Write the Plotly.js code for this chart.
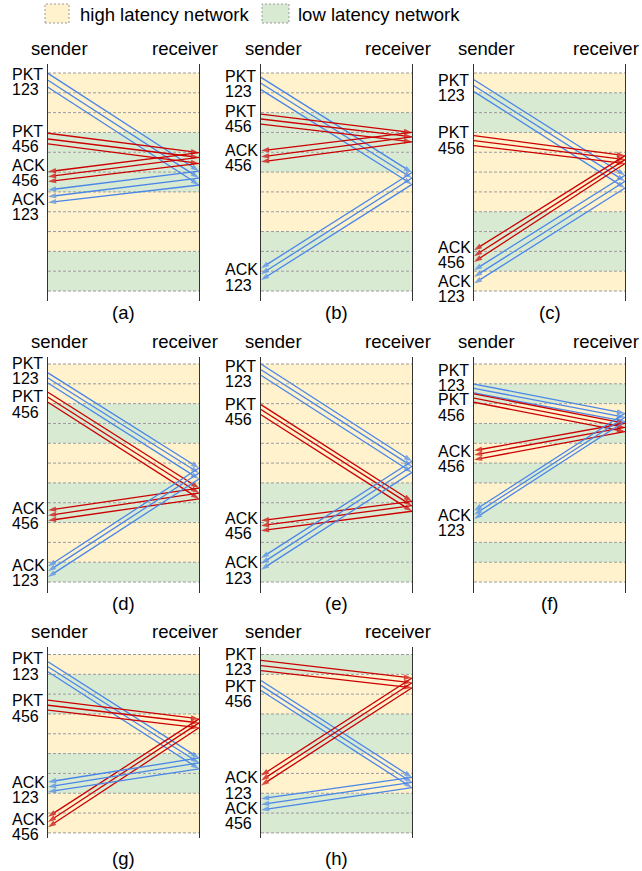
<!DOCTYPE html>
<html><head><meta charset="utf-8">
<script src="https://cdn.plot.ly/plotly-3.0.1.min.js"></script>
<style>html,body{margin:0;padding:0;background:#fff}#chart{width:642px;height:871px}</style>
</head><body><div id="chart"></div>
<script>
// ---------- DATA (time in band units, 0 = top of the band area) ----------
// H = high latency network band, L = low latency network band
const a_bands = 'HHHLLLHHHLL';
const a_pkt123_sent = [0.02, 0.37, 0.72], a_pkt123_recv = [4.95, 5.30, 5.65];
const a_pkt456_sent = [3.04, 3.33, 3.58], a_pkt456_recv = [4.02, 4.26, 4.56];
const a_ack123_back = [5.90, 6.24, 6.53], a_ack456_back = [4.98, 5.23, 5.48];
const a_labels = [['PKT','123',0.46],['PKT','456',3.34],['ACK','456',5.06],['ACK','123',6.75]];

const b_bands = 'HHLLLHHHLLL';
const b_pkt123_sent = [0.22, 0.52, 0.84], b_pkt123_recv = [5.02, 5.30, 5.62];
const b_pkt456_sent = [2.07, 2.32, 2.58], b_pkt456_recv = [3.00, 3.22, 3.47];
const b_ack123_back = [9.85, 10.15, 10.45], b_ack456_back = [3.92, 4.23, 4.48];
const b_labels = [['PKT','123',0.56],['PKT','456',2.32],['ACK','456',4.29],['ACK','123',10.32]];

const c_bands = 'HLLHHHHLLLH';
const c_pkt123_sent = [0.34, 0.64, 0.94], c_pkt123_recv = [5.16, 5.46, 5.80];
const c_pkt456_sent = [3.16, 3.41, 3.66], c_pkt456_recv = [4.17, 4.37, 4.57];
const c_ack123_back = [9.95, 10.29, 10.62], c_ack456_back = [8.94, 9.24, 9.53];
const c_labels = [['PKT','123',0.74],['PKT','456',3.41],['ACK','456',9.20],['ACK','123',10.88]];

const d_bands = 'HHLLHHLLHHL';
const d_pkt123_sent = [0.45, 0.71, 0.96], d_pkt123_recv = [5.25, 5.50, 5.80];
const d_pkt456_sent = [1.43, 1.68, 1.93], d_pkt456_recv = [6.26, 6.51, 6.80];
const d_ack123_back = [10.21, 10.46, 10.75], d_ack456_back = [7.38, 7.64, 7.90];
const d_labels = [['PKT','123',0.37],['PKT','456',2.04],['ACK','456',7.66],['ACK','123',10.55]];

const e_bands = 'HHHHHHLLLLL';
const e_pkt123_sent = [0.00, 0.29, 0.57], e_pkt123_recv = [4.91, 5.16, 5.47];
const e_pkt456_sent = [2.05, 2.30, 2.56], e_pkt456_recv = [6.93, 7.15, 7.43];
const e_ack123_back = [9.79, 10.08, 10.38], e_ack456_back = [7.90, 8.16, 8.41];
const e_labels = [['PKT','123',0.49],['PKT','456',2.41],['ACK','456',8.19],['ACK','123',10.42]];

const f_bands = 'HLHLHLHLHLH';
const f_pkt123_sent = [1.01, 1.23, 1.46], f_pkt123_recv = [2.49, 2.69, 2.89];
const f_pkt456_sent = [1.51, 1.72, 1.93], f_pkt456_recv = [2.99, 3.20, 3.41];
const f_ack123_back = [7.40, 7.60, 7.82], f_ack456_back = [4.37, 4.59, 4.83];
const f_labels = [['PKT','123',0.69],['PKT','456',2.19],['ACK','456',4.79],['ACK','123',8.03]];

const g_bands = 'HLLHHLLHH';
const g_pkt123_sent = [0.37, 0.62, 0.87], g_pkt123_recv = [5.22, 5.47, 5.77];
const g_pkt456_sent = [2.30, 2.56, 2.81], g_pkt456_recv = [3.25, 3.45, 3.70];
const g_ack123_back = [6.43, 6.68, 6.93], g_ack456_back = [8.19, 8.45, 8.71];
const g_labels = [['PKT','123',0.61],['PKT','456',2.73],['ACK','123',6.85],['ACK','456',8.70]];

const h_bands = 'LHHLLHHLL';
const h_pkt123_sent = [0.30, 0.56, 0.81], h_pkt123_recv = [1.19, 1.43, 1.68];
const h_pkt456_sent = [1.31, 1.56, 1.82], h_pkt456_recv = [6.20, 6.45, 6.72];
const h_ack123_back = [6.11, 6.36, 6.61], h_ack456_back = [7.28, 7.57, 7.84];
const h_labels = [['PKT','123',0.39],['PKT','456',2.00],['ACK','123',6.61],['ACK','456',8.16]];

const panelLetters = ['a','b','c','d','e','f','g','h'];
const pkt123Color = ['blue','blue','blue','blue','blue','blue','blue','red'];
const legendTexts = ['high latency network','low latency network'];
const endpointTexts = ['sender','receiver'];

// ---------- STYLE / GEOMETRY ----------
const W = 642, H = 871;
const FONT = 'Liberation Sans, Arial, Helvetica, sans-serif';
const COLORS = {blue:'#4a86e8', red:'#cc0000', H:'#fff2cc', L:'#d9ead3', dash:'#9a9a9a'};
const colSender = [48, 261, 474], colRecv = [199, 412, 625];
const recvLabelShift = [-14, -14, -19];
const rowTop = [73, 364, 654.5], rowExtTop = [64, 356.7, 646.5], rowExtBot = [301, 593.3, 838];
const subGap = [11, 10, 20];
const bandPx = 19.82;
const grid = [[0,0],[0,1],[0,2],[1,0],[1,1],[1,2],[2,0],[2,1]];

const panels = [
  {bands:a_bands, p123s:a_pkt123_sent, p123r:a_pkt123_recv, p456s:a_pkt456_sent, p456r:a_pkt456_recv, a123:a_ack123_back, a456:a_ack456_back, labels:a_labels},
  {bands:b_bands, p123s:b_pkt123_sent, p123r:b_pkt123_recv, p456s:b_pkt456_sent, p456r:b_pkt456_recv, a123:b_ack123_back, a456:b_ack456_back, labels:b_labels},
  {bands:c_bands, p123s:c_pkt123_sent, p123r:c_pkt123_recv, p456s:c_pkt456_sent, p456r:c_pkt456_recv, a123:c_ack123_back, a456:c_ack456_back, labels:c_labels},
  {bands:d_bands, p123s:d_pkt123_sent, p123r:d_pkt123_recv, p456s:d_pkt456_sent, p456r:d_pkt456_recv, a123:d_ack123_back, a456:d_ack456_back, labels:d_labels},
  {bands:e_bands, p123s:e_pkt123_sent, p123r:e_pkt123_recv, p456s:e_pkt456_sent, p456r:e_pkt456_recv, a123:e_ack123_back, a456:e_ack456_back, labels:e_labels},
  {bands:f_bands, p123s:f_pkt123_sent, p123r:f_pkt123_recv, p456s:f_pkt456_sent, p456r:f_pkt456_recv, a123:f_ack123_back, a456:f_ack456_back, labels:f_labels},
  {bands:g_bands, p123s:g_pkt123_sent, p123r:g_pkt123_recv, p456s:g_pkt456_sent, p456r:g_pkt456_recv, a123:g_ack123_back, a456:g_ack456_back, labels:g_labels},
  {bands:h_bands, p123s:h_pkt123_sent, p123r:h_pkt123_recv, p456s:h_pkt456_sent, p456r:h_pkt456_recv, a123:h_ack123_back, a456:h_ack456_back, labels:h_labels}
];

const traces = [], shapes = [], annotations = [];
const layout = {
  width: W, height: H, margin: {l:0, r:0, t:0, b:0},
  paper_bgcolor: '#fff', plot_bgcolor: 'rgba(0,0,0,0)', showlegend: false,
  font: {family: FONT, size: 16, color: '#000'}
};

function arrow(xa, ya, x, y, color) {
  traces.push({
    type: 'scatter', mode: 'lines+markers', xaxis: xa, yaxis: ya,
    x: x, y: y, hoverinfo: 'skip', cliponaxis: false,
    line: {color: COLORS[color], width: 1.3},
    marker: {symbol: 'arrow', angleref: 'previous', size: [0, 8.5], color: COLORS[color], line: {width: 0}}
  });
}

function text(obj) {
  annotations.push(Object.assign({showarrow: false, borderpad: 0, borderwidth: 0}, obj));
}

panels.forEach((p, k) => {
  const [row, col] = grid[k];
  const sfx = k === 0 ? '' : String(k + 1);
  const xa = 'x' + sfx, ya = 'y' + sfx;
  const n = p.bands.length;
  const top = rowTop[row];
  const yTop = (rowExtTop[row] - top) / bandPx, yBot = (rowExtBot[row] - top) / bandPx;
  layout['xaxis' + sfx] = {domain: [colSender[col] / W, colRecv[col] / W], range: [0, 1], anchor: ya,
    showgrid: false, zeroline: false, showticklabels: false, ticks: '', showline: false, fixedrange: true};
  layout['yaxis' + sfx] = {domain: [1 - rowExtBot[row] / H, 1 - rowExtTop[row] / H], range: [yBot, yTop], anchor: xa,
    showgrid: false, zeroline: false, showticklabels: false, ticks: '', showline: true, mirror: true,
    linecolor: '#333', linewidth: 1.4, fixedrange: true};
  // bands
  p.bands.split('').forEach((b, i) => {
    shapes.push({type: 'rect', xref: xa, yref: ya, x0: 0, x1: 1, y0: i, y1: i + 1, layer: 'below',
      fillcolor: COLORS[b], line: {width: 0}});
  });
  for (let i = 0; i <= n; i++) {
    shapes.push({type: 'line', xref: xa, yref: ya, x0: 0, x1: 1, y0: i, y1: i, layer: 'below',
      line: {color: COLORS.dash, width: 1, dash: '3px,2px'}});
  }
  const c123 = pkt123Color[k], c456 = c123 === 'blue' ? 'red' : 'blue';
  // packets sender -> receiver
  for (let i = 0; i < 3; i++) arrow(xa, ya, [0, 1], [p.p123s[i], p.p123r[i]], c123);
  for (let i = 0; i < 3; i++) arrow(xa, ya, [0, 1], [p.p456s[i], p.p456r[i]], c456);
  // acks receiver -> sender
  for (let i = 0; i < 3; i++) arrow(xa, ya, [1, 0], [p.p456r[i], p.a456[i]], c456);
  for (let i = 0; i < 3; i++) arrow(xa, ya, [1, 0], [p.p123r[i], p.a123[i]], c123);
  // side labels
  p.labels.forEach(([kind, id, y]) => {
    [[kind, -0.385], [id, 0.385]].forEach(([t, dy]) => {
      text({xref: xa, yref: ya, x: 0, y: y + dy, text: t,
        xanchor: 'left', yanchor: 'middle', xshift: -36, font: {size: 16, family: FONT, color: '#000'}});
    });
  });
  // sender / receiver
  text({xref: xa, yref: ya, x: 0, y: yTop, text: endpointTexts[0],
    xanchor: 'center', yanchor: 'middle', xshift: 12, yshift: 15.5, font: {size: 18.5, family: FONT, color: '#000'}});
  text({xref: xa, yref: ya, x: 1, y: yTop, text: endpointTexts[1],
    xanchor: 'center', yanchor: 'middle', xshift: recvLabelShift[col], yshift: 15.5, font: {size: 18.5, family: FONT, color: '#000'}});
  // sub label
  text({xref: xa, yref: ya, x: 0.5, y: yBot, text: '(' + panelLetters[k] + ')',
    xanchor: 'center', yanchor: 'middle', yshift: -subGap[row], font: {size: 18.5, family: FONT, color: '#000'}});
});

// legend (top)
const legBoxes = [[45, 69, 'H', 80], [262, 289, 'L', 298]];
legBoxes.forEach(([x0, x1, b, tx], i) => {
  shapes.push({type: 'rect', xref: 'paper', yref: 'paper', x0: x0 / W, x1: x1 / W, y0: 1 - 23 / H, y1: 1 - 4 / H,
    fillcolor: COLORS[b], line: {color: COLORS.dash, width: 1, dash: '2px,2px'}});
  text({xref: 'paper', yref: 'paper', x: tx / W, y: 1 - 14 / H, text: legendTexts[i],
    xanchor: 'left', yanchor: 'middle', font: {size: 18.5, family: FONT, color: '#000'}});
});

layout.shapes = shapes;
layout.annotations = annotations;
Plotly.newPlot('chart', traces, layout, {staticPlot: true, displayModeBar: false});
</script>
</body></html>
